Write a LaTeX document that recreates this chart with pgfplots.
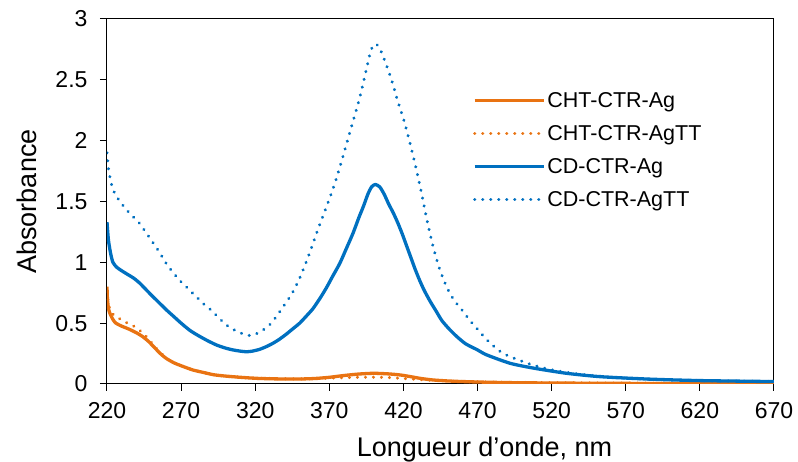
\documentclass[border=0pt]{standalone}
\usepackage{fontspec}
\setmainfont{Liberation Sans}
\usepackage{pgfplots}
\pgfplotsset{compat=1.18}
\definecolor{corange}{RGB}{233,115,18}
\definecolor{cblue}{RGB}{0,112,192}
\begin{document}
\begin{tikzpicture}
\path[use as bounding box] (-107pt,-78pt) rectangle (691pt,384pt);
\begin{axis}[
  at={(0pt,0pt)}, anchor=south west,
  width=667pt, height=365pt, scale only axis,
  xmin=220, xmax=670, ymin=0, ymax=3,
  xtick={220,270,...,670}, ytick={0,0.5,...,3},
  axis line style={black, line width=1pt},
  tick style={black, line width=1pt},
  tick align=outside, major tick length=7pt,
  xtick pos=bottom, ytick pos=left,
  /pgf/number format/assume math mode=true,
  /pgf/number format/fixed,
  /pgf/number format/1000 sep={},
  ticklabel style={font=\fontsize{23}{23}\selectfont},
  xticklabel style={yshift=-8pt},
  yticklabel style={xshift=-9pt},
  xlabel={Longueur d’onde, nm},
  ylabel={Absorbance},
  label style={font=\fontsize{27}{27}\selectfont},
  xlabel style={at={(axis description cs:0.566,0)}, anchor=base, yshift=-73pt},
  ylabel style={at={(axis description cs:-0.105,0.5)}, anchor=base},
  legend style={at={(axis description cs:0.544,0.81)}, anchor=north west,
    draw=none, fill=none, font=\fontsize{21.5}{21.5}\selectfont, row sep=12.5pt},
  legend cell align=left,
  legend image code/.code={\draw[#1] (0pt,0pt) -- (69pt,0pt);},
  every axis plot/.append style={line width=3.3pt, no marks, smooth, tension=0.4},
]
% CHT-CTR-Ag
\addplot[corange, line join=round] coordinates {
(220,0.80) (220.3,0.70) (221,0.62) (222,0.58) (224,0.53) (226,0.50) (230,0.475) (235,0.45)
(240,0.42) (244,0.39) (248,0.35) (252,0.30) (256,0.25) (260,0.21) (265,0.175) (270,0.15)
(278,0.115) (285,0.095) (292,0.076) (300,0.065) (310,0.055) (320,0.047) (330,0.043) (340,0.041)
(350,0.041) (360,0.045) (370,0.055) (380,0.07) (390,0.082) (400,0.088) (410,0.083) (418,0.074)
(425,0.06) (432,0.045) (440,0.033) (450,0.025) (460,0.02) (475,0.015) (500,0.01) (550,0.006)
(600,0.004) (670,0.003)
};
\addlegendentry{CHT-CTR-Ag}
% CHT-CTR-AgTT
\addplot[corange, line cap=round, dash pattern=on 0.01pt off 8pt] coordinates {
(220,0.76) (221,0.66) (222.5,0.60) (225,0.56) (228,0.54) (232,0.51) (236,0.49) (240,0.46)
(244,0.42) (248,0.37) (252,0.31) (256,0.26) (260,0.21) (265,0.175) (270,0.15) (278,0.115)
(285,0.095) (292,0.076) (300,0.065) (310,0.055) (320,0.048) (330,0.045) (340,0.043) (350,0.042)
(360,0.044) (370,0.048) (380,0.052) (390,0.055) (400,0.056) (410,0.053) (420,0.045) (430,0.037)
(440,0.03) (455,0.022) (475,0.016) (500,0.012) (550,0.008) (600,0.006) (670,0.005)
};
\addlegendentry{CHT-CTR-AgTT}
% CD-CTR-Ag
\addplot[cblue, line join=round] coordinates {
(220,1.33) (221,1.18) (222.5,1.07) (224,1.00) (226.5,0.96) (230,0.93) (234,0.90) (238,0.87)
(242,0.83) (246,0.78) (250,0.73) (255,0.67) (260,0.61) (265,0.555) (270,0.50) (276,0.44)
(282,0.395) (288,0.355) (294,0.32) (300,0.295) (305,0.28) (310,0.27) (314,0.265) (318,0.27)
(323,0.285) (328,0.31) (332,0.335) (336,0.365) (341,0.41) (346,0.46) (350,0.50) (355,0.565)
(359,0.62) (364,0.71) (368,0.79) (372,0.88) (377,0.99) (381,1.10) (386,1.24) (390,1.37)
(393,1.46) (396,1.56) (398.5,1.62) (401,1.64) (404,1.62) (407,1.56) (410,1.48) (413,1.41)
(416,1.33) (419,1.24) (422,1.14) (425,1.04) (428,0.94) (431,0.85) (434,0.77) (438,0.68)
(442,0.60) (446,0.52) (451,0.45) (456,0.39) (462,0.33) (470,0.28) (476,0.24) (492,0.17) (508,0.13)
(530,0.088) (553,0.06) (586,0.04) (620,0.028) (670,0.02)
};
\addlegendentry{CD-CTR-Ag}
% CD-CTR-AgTT
\addplot[cblue, line cap=round, dash pattern=on 0.01pt off 8pt] coordinates {
(220,1.90) (221,1.77) (222.5,1.67) (224,1.60) (226.5,1.54) (230,1.48) (234,1.42) (238,1.37)
(242,1.32) (246,1.25) (250,1.18) (255,1.09) (260,0.99) (265,0.91) (270,0.84) (275,0.78)
(280,0.72) (285,0.66) (290,0.61) (295,0.55) (300,0.49) (305,0.45) (310,0.42) (315,0.40)
(318,0.40) (322,0.42) (326,0.45) (330,0.49) (334,0.55) (338,0.62) (342,0.69) (346,0.77)
(350,0.87) (354,0.99) (358,1.12) (362,1.26) (366,1.39) (370,1.52) (374,1.66) (378,1.82)
(382,1.99) (386,2.16) (390,2.33) (393,2.48) (396,2.64) (398,2.74) (400,2.79) (402,2.79)
(404,2.76) (407,2.67) (410,2.57) (413,2.46) (416,2.33) (420,2.18) (424,2.00) (428,1.80)
(432,1.58) (436,1.34) (440,1.13) (444,0.96) (448,0.83) (452,0.73) (456,0.66) (460,0.60)
(465,0.52) (470,0.45) (475,0.38) (480,0.32) (485,0.27) (490,0.235) (495,0.21) (505,0.165)
(515,0.13) (525,0.105) (540,0.078) (560,0.055) (580,0.042) (600,0.033) (630,0.026) (670,0.02)
};
\addlegendentry{CD-CTR-AgTT}
\end{axis}
\end{tikzpicture}
\end{document}
